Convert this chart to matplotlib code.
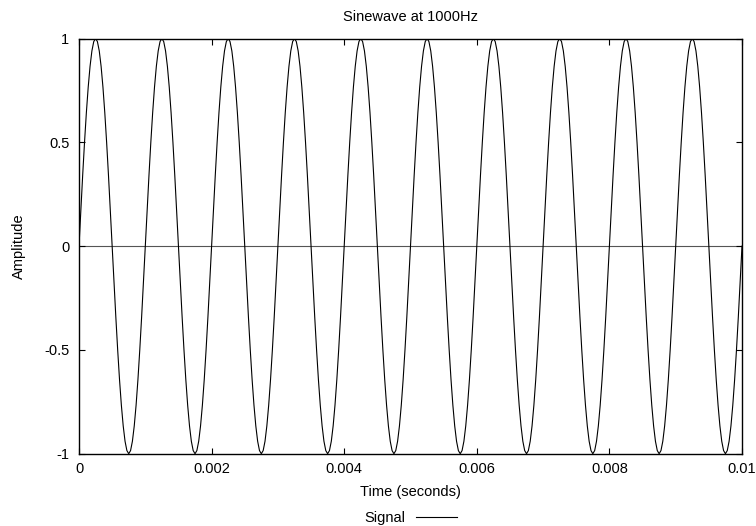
import numpy as np
import matplotlib
matplotlib.use("Agg")
import matplotlib.pyplot as plt

# ---- data ----
title = "Sinewave at 1000Hz"
x_label = "Time (seconds)"
y_label = "Amplitude"
series_name = "Signal"
duration_s = 0.01
n_cycles = 10  # 1000 Hz over 0.01 s
# one cycle of the waveform, read as samples (every 1/36 of a period)
cycle_values = [0.000, 0.174, 0.342, 0.500, 0.643, 0.766, 0.866, 0.940, 0.985,
                1.000, 0.985, 0.940, 0.866, 0.766, 0.643, 0.500, 0.342, 0.174,
                0.000, -0.174, -0.342, -0.500, -0.643, -0.766, -0.866, -0.940, -0.985,
                -1.000, -0.985, -0.940, -0.866, -0.766, -0.643, -0.500, -0.342, -0.174]
signal = cycle_values * n_cycles + [0.000]
x_ticks = [0, 0.002, 0.004, 0.006, 0.008, 0.01]
x_tick_labels = ["0", "0.002", "0.004", "0.006", "0.008", "0.01"]
y_ticks = [-1, -0.5, 0, 0.5, 1]
y_tick_labels = ["-1", "-0.5", "0", "0.5", "1"]

times = np.linspace(0, duration_s, len(signal))

plt.rcParams['font.family'] = ['Liberation Sans', 'DejaVu Sans']
plt.rcParams['axes.unicode_minus'] = False
FS = 10.5

W, H = 756, 526
fig = plt.figure(figsize=(W / 100, H / 100), dpi=100)
ax = fig.add_axes([79 / W, 1 - 453.7 / H, (742 - 79) / W, (453.7 - 38.5) / H])

ax.axhline(0, color='#555555', lw=0.8, zorder=1)
line, = ax.plot(times, signal, color='black', lw=0.8, zorder=2, label=series_name)

ax.set_xlim(0, duration_s)
ax.set_ylim(-1, 1)
ax.set_xticks(x_ticks)
ax.set_xticklabels(x_tick_labels)
ax.set_yticks(y_ticks)
ax.set_yticklabels(y_tick_labels)
ax.tick_params(direction='in', length=4, width=0.8, top=True, right=True,
               labelsize=FS, colors='black')
ax.tick_params(axis='x', pad=6)
ax.tick_params(axis='y', pad=7)
for s in ax.spines.values():
    s.set_linewidth(1.0)
    s.set_color('black')

fig.text(410.5 / W, 1 - 17 / H, title, ha='center', va='center', fontsize=FS)
fig.text(410.5 / W, 1 - 492 / H, x_label, ha='center', va='center', fontsize=FS)
fig.text(19 / W, 1 - 246 / H, y_label, ha='center', va='center', rotation=90, fontsize=FS)

ax.legend(handles=[line], loc='center', bbox_to_anchor=(410.5 / W, 1 - 518 / H),
          bbox_transform=fig.transFigure, frameon=False, markerfirst=False,
          fontsize=FS, handlelength=2.8, handletextpad=0.7, borderpad=0)

fig.savefig("out.png", dpi=100)
